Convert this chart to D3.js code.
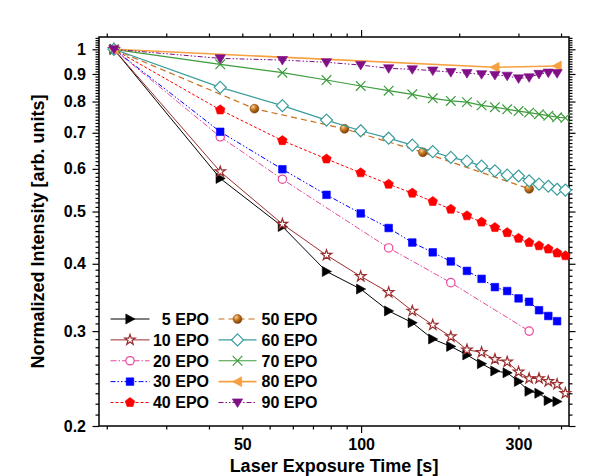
<!DOCTYPE html>
<html>
<head>
<meta charset="utf-8">
<script src="https://cdn.jsdelivr.net/npm/d3@7"></script>
<style>
  html, body { margin: 0; padding: 0; background: #ffffff; }
  svg { display: block; font-family: "Liberation Sans", Arial, sans-serif; font-weight: bold; }
</style>
</head>
<body>
<svg id="chart" width="591" height="476"></svg>
<script>
// ---- Measurement data: normalized intensity vs. laser exposure time (s) ----
const timesLong  = [20, 40, 60, 80, 100, 120, 140, 160, 180, 200, 220, 240, 260, 280, 300, 320, 340, 360, 380];
const timesShort = [20, 40, 60, 80, 100, 120, 140, 160, 180, 200, 220, 240, 260, 280, 300, 320, 340, 360];

const epo5Times  = timesShort;
const epo5  = [1, 0.576, 0.469, 0.387, 0.359, 0.327, 0.311, 0.290, 0.281, 0.271, 0.261, 0.253, 0.251, 0.242, 0.232, 0.230, 0.223, 0.222];
const epo10Times = timesLong;
const epo10 = [1, 0.593, 0.474, 0.415, 0.379, 0.354, 0.327, 0.308, 0.293, 0.277, 0.274, 0.266, 0.263, 0.252, 0.245, 0.245, 0.242, 0.239, 0.230];
const epo20Times = [20, 40, 60, 120, 180, 300];
const epo20 = [1, 0.688, 0.574, 0.428, 0.369, 0.300];
const epo30Times = timesShort;
const epo30 = [1, 0.703, 0.599, 0.537, 0.496, 0.466, 0.438, 0.420, 0.404, 0.388, 0.375, 0.362, 0.356, 0.345, 0.340, 0.328, 0.320, 0.313];
const epo40Times = timesLong;
const epo40 = [1, 0.772, 0.677, 0.626, 0.590, 0.562, 0.541, 0.522, 0.505, 0.491, 0.478, 0.467, 0.457, 0.446, 0.438, 0.432, 0.426, 0.419, 0.414];
const epo50Times = [20, 50, 90, 150, 300];
const epo50 = [1, 0.776, 0.712, 0.644, 0.551];
const epo60Times = timesLong;
const epo60 = [1, 0.850, 0.786, 0.739, 0.706, 0.684, 0.664, 0.646, 0.630, 0.620, 0.607, 0.595, 0.584, 0.582, 0.570, 0.562, 0.557, 0.550, 0.548];
const epo70Times = timesLong;
const epo70 = [1, 0.938, 0.905, 0.877, 0.855, 0.838, 0.825, 0.811, 0.802, 0.798, 0.787, 0.781, 0.774, 0.768, 0.763, 0.758, 0.753, 0.748, 0.746];
const epo80Times = [20, 240, 360];
const epo80 = [1, 0.926, 0.931];
const epo90Times = timesShort;
const epo90 = [1, 0.962, 0.955, 0.946, 0.935, 0.922, 0.918, 0.913, 0.907, 0.903, 0.899, 0.896, 0.893, 0.883, 0.887, 0.900, 0.905, 0.903];

const seriesNames = ["5 EPO", "10 EPO", "20 EPO", "30 EPO", "40 EPO", "50 EPO", "60 EPO", "70 EPO", "80 EPO", "90 EPO"];

// Axis ticks and labels
const yMajorTicks = [0.2, 0.3, 0.4, 0.5, 0.6, 0.7, 0.8, 0.9, 1];
const yTickLabels = ["0.2", "0.3", "0.4", "0.5", "0.6", "0.7", "0.8", "0.9", "1"];
// The printed time ruler runs on its own log scale, offset from the sample clock
const rulerOffset = 11;
const xRulerTicks = [10, 20, 30, 40, 50, 60, 70, 80, 90, 100, 200, 300, 400];
const xRulerMajor = [100];
const xLabelTicks = [40, 100, 300];
const xTickLabels = ["50", "100", "300"];

// ---- Series appearance ----
const styles = [
  { color: "#000000", dash: null,              marker: "triRight", fill: true,  width: 1 },
  { color: "#9b2d2d", dash: null,              marker: "star",     fill: false, width: 1 },
  { color: "#e8489c", dash: "6,2,1.5,2",       marker: "circle",   fill: false, width: 1 },
  { color: "#0000ff", dash: "5,2,1.5,2,1.5,2", marker: "square",   fill: true,  width: 1 },
  { color: "#ff0000", dash: "3,2",             marker: "pentagon", fill: true,  width: 1 },
  { color: "#c8701e", dash: "6,4",             marker: "ball",     fill: true,  width: 1.2 },
  { color: "#3a9c9c", dash: null,              marker: "diamond",  fill: false, width: 1.2 },
  { color: "#3c9c3c", dash: null,              marker: "cross",    fill: false, width: 1.2 },
  { color: "#f7a040", dash: null,              marker: "triLeft",  fill: true,  width: 1.6 },
  { color: "#800f88", dash: "5,2,1.5,2,1.5,2", marker: "triDown",  fill: true,  width: 1 }
];

const seriesTimes = [epo5Times, epo10Times, epo20Times, epo30Times, epo40Times, epo50Times, epo60Times, epo70Times, epo80Times, epo90Times];
const seriesValues = [epo5, epo10, epo20, epo30, epo40, epo50, epo60, epo70, epo80, epo90];

const series = seriesNames.map((name, i) => ({
  name,
  style: styles[i],
  points: seriesTimes[i].map((t, j) => ({ t, v: seriesValues[i][j] }))
}));

// ---- Layout and scales ----
const svg = d3.select("#chart");
const W = 591, H = 476;
const frame = { left: 99, right: 569, top: 37, bottom: 426 };

const x = d3.scaleLog().domain([18.14, 389.1]).range([frame.left, frame.right]);
const y = d3.scaleLog().domain([0.2, 1.054]).range([frame.bottom, frame.top]);
const xRuler = d3.scaleLog().domain([8.96 + rulerOffset, 422 + rulerOffset]).range([frame.left, frame.right]);

svg.append("rect").attr("width", W).attr("height", H).attr("fill", "#ffffff");

const defs = svg.append("defs");
const grad = defs.append("radialGradient").attr("id", "ballGrad")
  .attr("cx", "35%").attr("cy", "30%").attr("r", "70%");
grad.append("stop").attr("offset", "0%").attr("stop-color", "#f7d09a");
grad.append("stop").attr("offset", "45%").attr("stop-color", "#cc7a22");
grad.append("stop").attr("offset", "100%").attr("stop-color", "#7a3e08");

// ---- Axes ----
const yMinorTicks = d3.range(20, 106).map(k => k / 100).filter(v => Math.round(v * 100) % 10 !== 0);
const rulerShift = v => v + rulerOffset;
const rulerMinor = xRulerTicks.filter(v => !xRulerMajor.includes(v));

function styleAxis(g) {
  g.select(".domain").remove();
  g.selectAll(".tick line").attr("stroke", "#000").attr("stroke-width", 1.2);
  g.selectAll(".tick text").attr("fill", "#000").attr("font-size", 16).attr("font-weight", "bold")
    .attr("font-family", '"Liberation Sans", Arial, sans-serif');
}

// bottom ruler
svg.append("g").attr("transform", `translate(0,${frame.bottom})`)
  .call(d3.axisBottom(xRuler).tickValues(rulerMinor.map(rulerShift)).tickSize(3.5).tickFormat(""))
  .call(styleAxis);
svg.append("g").attr("transform", `translate(0,${frame.bottom})`)
  .call(d3.axisBottom(xRuler).tickValues(xRulerMajor.map(rulerShift)).tickSize(7).tickFormat(""))
  .call(styleAxis);
svg.append("g").attr("transform", `translate(0,${frame.bottom})`)
  .call(d3.axisBottom(xRuler).tickValues(xLabelTicks.map(rulerShift)).tickSize(0).tickPadding(12.5)
    .tickFormat((d, i) => xTickLabels[i]))
  .call(styleAxis);
// top ruler
svg.append("g").attr("transform", `translate(0,${frame.top})`)
  .call(d3.axisTop(xRuler).tickValues(rulerMinor.map(rulerShift)).tickSize(3.5).tickFormat(""))
  .call(styleAxis);
svg.append("g").attr("transform", `translate(0,${frame.top})`)
  .call(d3.axisTop(xRuler).tickValues(xRulerMajor.map(rulerShift)).tickSize(7).tickFormat(""))
  .call(styleAxis);

// left axis
svg.append("g").attr("transform", `translate(${frame.left},0)`)
  .call(d3.axisLeft(y).tickValues(yMinorTicks).tickSize(3.5).tickFormat(""))
  .call(styleAxis);
svg.append("g").attr("transform", `translate(${frame.left},0)`)
  .call(d3.axisLeft(y).tickValues(yMajorTicks).tickSize(6.5).tickPadding(6.5)
    .tickFormat((d, i) => yTickLabels[i]))
  .call(styleAxis);
// right axis
svg.append("g").attr("transform", `translate(${frame.right},0)`)
  .call(d3.axisRight(y).tickValues(yMinorTicks).tickSize(3.5).tickFormat(""))
  .call(styleAxis);
svg.append("g").attr("transform", `translate(${frame.right},0)`)
  .call(d3.axisRight(y).tickValues(yMajorTicks).tickSize(6.5).tickFormat(""))
  .call(styleAxis);

// frame
svg.append("rect")
  .attr("x", frame.left).attr("y", frame.top)
  .attr("width", frame.right - frame.left).attr("height", frame.bottom - frame.top)
  .attr("fill", "none").attr("stroke", "#000").attr("stroke-width", 1.5);

// axis titles
svg.append("text")
  .attr("x", (frame.left + frame.right) / 2).attr("y", 472)
  .attr("text-anchor", "middle").attr("font-size", 18)
  .text("Laser Exposure Time [s]");
svg.append("text")
  .attr("transform", `translate(44,${(frame.top + frame.bottom) / 2}) rotate(-90)`)
  .attr("text-anchor", "middle").attr("font-size", 18)
  .text("Normalized Intensity [arb. units]");

// ---- Markers ----
function pentagonPath(r) {
  const pts = d3.range(5).map(k => {
    const a = -Math.PI / 2 + k * 2 * Math.PI / 5;
    return [r * Math.cos(a), r * Math.sin(a)];
  });
  return "M" + pts.map(p => p.join(",")).join("L") + "Z";
}
const markerPaths = {
  triRight: "M5,0L-4.2,-5L-4.2,5Z",
  triLeft:  "M-5,0L4.2,-5L4.2,5Z",
  triDown:  "M0,5L-5.2,-3.6L5.2,-3.6Z",
  square:   "M-3.8,-3.8H3.8V3.8H-3.8Z",
  pentagon: pentagonPath(5),
  circle:   d3.symbol(d3.symbolCircle, 55)(),
  ball:     d3.symbol(d3.symbolCircle, 62)(),
  diamond:  "M0,-6L6,0L0,6L-6,0Z",
  cross:    "M-4.8,-4.8L4.8,4.8M-4.8,4.8L4.8,-4.8",
  star:     d3.symbol(d3.symbolStar, 34)()
};
function drawMarker(sel, st) {
  sel.append("path")
    .attr("d", markerPaths[st.marker])
    .attr("fill", st.marker === "ball" ? "url(#ballGrad)" : (st.fill ? st.color : "#ffffff"))
    .attr("fill-opacity", st.fill || st.marker === "ball" ? 1 : (st.marker === "cross" ? 0 : 1))
    .attr("stroke", st.marker === "ball" ? "#8a4a10" : st.color)
    .attr("stroke-width", st.fill ? 0.6 : 1.2);
}

// ---- Data series ----
const line = d3.line().x(d => x(d.t)).y(d => y(d.v));
const gSeries = svg.append("g");
series.forEach(s => {
  const g = gSeries.append("g");
  g.append("path")
    .datum(s.points)
    .attr("d", line)
    .attr("fill", "none")
    .attr("stroke", s.style.color)
    .attr("stroke-width", s.style.width)
    .attr("stroke-dasharray", s.style.dash);
  g.selectAll("g.pt").data(s.points).join("g")
    .attr("class", "pt")
    .attr("transform", d => `translate(${x(d.t)},${y(d.v)})`)
    .each(function () { drawMarker(d3.select(this), s.style); });
});

// ---- Legend ----
const legendRowY = d3.scalePoint().domain(d3.range(5)).range([319, 402.5]);
const legendCols = [
  { lineX0: 110.5, lineX1: 149.5, textX: 209, anchor: "end" },
  { lineX0: 218.5, lineX1: 256.5, textX: 261.5, anchor: "start" }
];
series.forEach((s, i) => {
  const col = legendCols[Math.floor(i / 5)];
  const ly = legendRowY(i % 5);
  const g = svg.append("g");
  g.append("line")
    .attr("x1", col.lineX0).attr("x2", col.lineX1).attr("y1", ly).attr("y2", ly)
    .attr("stroke", s.style.color).attr("stroke-width", s.style.width)
    .attr("stroke-dasharray", s.style.dash);
  const m = g.append("g").attr("transform", `translate(${(col.lineX0 + col.lineX1) / 2},${ly})`);
  drawMarker(m, s.style);
  g.append("text")
    .attr("x", col.textX).attr("y", ly).attr("dy", "0.36em")
    .attr("text-anchor", col.anchor).attr("font-size", 16)
    .text(s.name);
});
</script>
</body>
</html>
